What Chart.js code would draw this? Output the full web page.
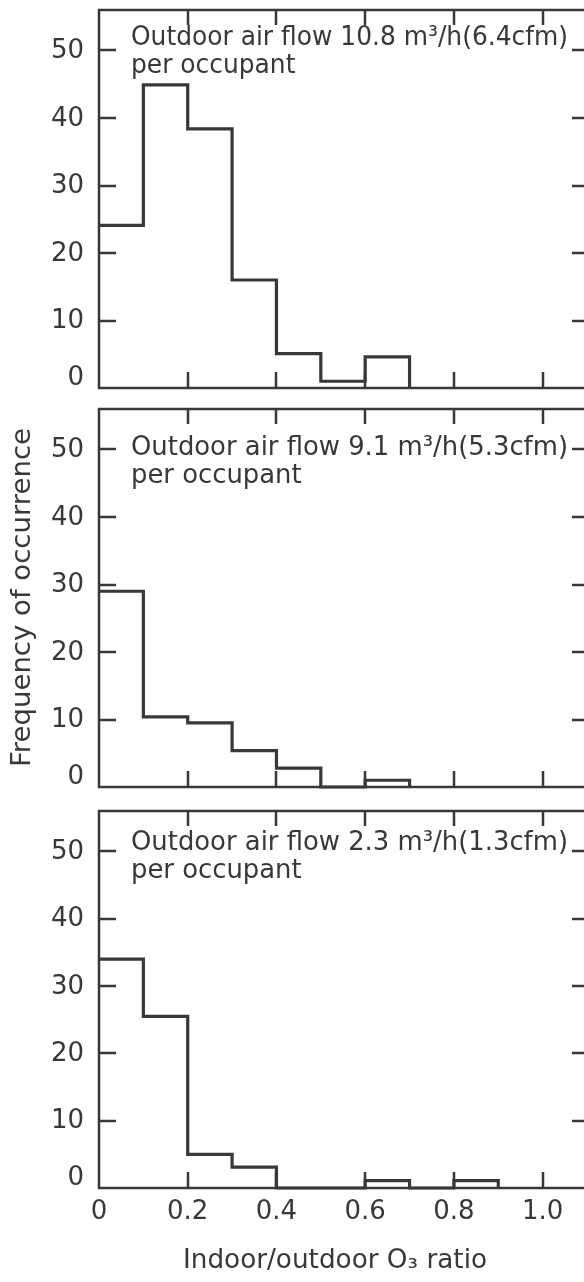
<!DOCTYPE html>
<html>
<head>
<meta charset="utf-8">
<script src="https://cdn.jsdelivr.net/npm/chart.js@4.4.0/dist/chart.umd.min.js"></script>
<style>
    html, body { margin: 0; padding: 0; background: #fff; overflow: hidden; width: 584px; height: 1282px; }
    canvas { position: absolute; left: 0; }
</style>
</head>
<body>
<canvas id="panel-high" width="600" height="400" style="top:0"></canvas>
<canvas id="panel-mid" width="600" height="400" style="top:400px"></canvas>
<canvas id="panel-low" width="600" height="482" style="top:800px"></canvas>
<script>
(function() {
    'use strict';

    // left edge of each 0.1 wide bin of the indoor/outdoor ratio
    const binStarts = [0, 0.1, 0.2, 0.3, 0.4, 0.5, 0.6, 0.7, 0.8, 0.9];
    const flow108 = [24.1, 44.9, 38.4, 16.0, 5.1, 1.0, 4.6, 0, 0, 0];
    const flow91 = [29.0, 10.4, 9.5, 5.4, 2.8, 0, 1.0, 0, 0, 0];
    const flow23 = [34.0, 25.5, 5.0, 3.1, 0, 0, 1.1, 0, 1.1, 0];

    const yTicks = [0, 10, 20, 30, 40, 50];
    const xTicks = [0, 0.2, 0.4, 0.6, 0.8, 1.0];
    const xTickLabels = ['0', '0.2', '0.4', '0.6', '0.8', '1.0'];

    const captions = [
        'Outdoor air flow 10.8 m\u00b3/h(6.4cfm)',
        'Outdoor air flow 9.1 m\u00b3/h(5.3cfm)',
        'Outdoor air flow 2.3 m\u00b3/h(1.3cfm)',
    ];
    const captionLine2 = 'per occupant';
    const yTitle = 'Frequency of occurrence';
    const xTitle = 'Indoor/outdoor O\u2083 ratio';

    const INK = '#383838';
    const FONT = '"DejaVu Sans", sans-serif';

    function drawFitted(ctx, text, x, y, width) {
        const w = ctx.measureText(text).width;
        ctx.save();
        ctx.translate(x, y);
        ctx.scale(width / w, 1);
        ctx.fillText(text, 0, 0);
        ctx.restore();
        return width / w;
    }

    const framePlugin = {
        id: 'frame',
        afterDatasetsDraw(chart, args, opts) {
            const { ctx, chartArea: a, scales: { x, y } } = chart;
            ctx.save();
            ctx.strokeStyle = INK;
            ctx.fillStyle = INK;
            ctx.lineWidth = 2.5;
            ctx.strokeRect(a.left, a.top, a.right - a.left, a.bottom - a.top);

            // inward tick marks on all four sides
            ctx.beginPath();
            yTicks.forEach(v => {
                if (v === 0) return;
                const py = Math.round(y.getPixelForValue(v));
                ctx.moveTo(a.left, py); ctx.lineTo(a.left + 17, py);
                ctx.moveTo(a.right, py); ctx.lineTo(a.right - 15, py);
            });
            xTicks.forEach(v => {
                if (v === 0) return;
                const px = Math.round(x.getPixelForValue(v));
                ctx.moveTo(px, a.bottom); ctx.lineTo(px, a.bottom - 16);
                ctx.moveTo(px, a.top); ctx.lineTo(px, a.top + 15);
            });
            ctx.stroke();

            ctx.font = '26px ' + FONT;
            ctx.textAlign = 'right';
            ctx.textBaseline = 'middle';
            yTicks.forEach(v => {
                ctx.fillText(String(v), a.left - 15, y.getPixelForValue(v) + (v === 0 ? -10 : 1));
            });

            // caption in the upper left corner
            ctx.textAlign = 'left';
            ctx.textBaseline = 'alphabetic';
            ctx.font = '26px ' + FONT;
            const cx = a.left + 32;
            const cy = a.top + opts.captionOffset;
            const sx = drawFitted(ctx, opts.caption, cx, cy, 437);
            ctx.save();
            ctx.translate(cx, cy + 28);
            ctx.scale(sx, 1);
            ctx.fillText(captionLine2, 0, 0);
            ctx.restore();

            if (opts.xLabels) {
                ctx.font = '26px ' + FONT;
                ctx.textAlign = 'center';
                ctx.textBaseline = 'middle';
                xTicks.forEach((v, i) => {
                    ctx.fillText(xTickLabels[i], x.getPixelForValue(v), a.bottom + 24);
                });
                ctx.textAlign = 'left';
                ctx.textBaseline = 'alphabetic';
                drawFitted(ctx, xTitle, a.left + 84, a.bottom + 80, 304);
            }

            if (opts.yTitle) {
                ctx.font = '26px ' + FONT;
                ctx.textAlign = 'left';
                ctx.textBaseline = 'middle';
                ctx.save();
                ctx.translate(23, a.top + 358);
                ctx.rotate(-Math.PI / 2);
                drawFitted(ctx, yTitle, 0, 0, 339);
                ctx.restore();
            }
            ctx.restore();
        },
    };

    function buildPanel(id, values, frameOpts, padding) {
        const canvas = document.getElementById(id);
        // stop the outline where the last non-empty bin ends
        let last = values.length - 1;
        while (last > 0 && values[last] === 0) last--;
        const points = binStarts.slice(0, last + 2).map((b, i) => ({ x: b, y: values[i] }));
        return new Chart(canvas, {
            type: 'line',
            data: {
                datasets: [{
                    data: points,
                    stepped: true,
                    borderColor: INK,
                    borderWidth: 3.2,
                    pointRadius: 0,
                    fill: false,
                    clip: 4,
                }],
            },
            options: {
                responsive: false,
                animation: false,
                events: [],
                layout: { padding },
                plugins: {
                    legend: { display: false },
                    tooltip: { enabled: false },
                    frame: frameOpts,
                },
                scales: {
                    x: { type: 'linear', min: 0, max: 1.1, display: false },
                    y: { type: 'linear', min: 0, max: 56, display: false },
                },
            },
            plugins: [framePlugin],
        });
    }

    function init() {
        buildPanel('panel-high', flow108,
            { caption: captions[0], captionOffset: 35 },
            { left: 99, right: 13, top: 10, bottom: 12 });
        buildPanel('panel-mid', flow91,
            { caption: captions[1], captionOffset: 46, yTitle: true },
            { left: 99, right: 13, top: 9, bottom: 13 });
        buildPanel('panel-low', flow23,
            { caption: captions[2], captionOffset: 39, xLabels: true },
            { left: 99, right: 13, top: 11, bottom: 94 });
    }

    if (document.readyState === 'loading') {
        document.addEventListener('DOMContentLoaded', init);
    } else {
        init();
    }
})();
</script>
</body>
</html>
